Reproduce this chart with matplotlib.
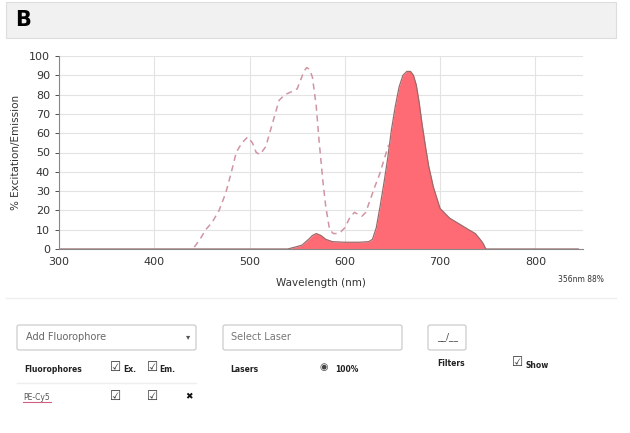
import matplotlib.pyplot as plt
from matplotlib.patches import Rectangle, FancyBboxPatch
from matplotlib.lines import Line2D

# excitation spectrum (dashed)
ex_wl = [442, 448, 454, 461, 468, 475, 481, 486, 492, 498, 503, 507, 511, 517, 524, 531,
         537, 542, 550, 554, 557, 560, 563, 566, 570, 573, 577, 580, 584, 588, 592, 596, 600,
         605, 610, 614, 618, 622, 627, 632, 636, 641, 646]
ex_val = [1, 5, 10, 14, 20, 29, 40, 50, 55, 58, 55, 50, 49, 53, 65, 77,
          80, 81, 83, 88, 92, 94, 93, 89, 74, 56, 35, 22, 10, 8, 8, 9, 11,
          16, 19, 18, 17, 19, 26, 33, 38, 46, 54]

# emission spectrum (filled)
em_wl = [300, 540, 548, 555, 562, 566, 570, 575, 580, 587, 600, 615, 625, 629, 633, 637,
         641, 645, 649, 653, 657, 661, 665, 669, 672, 675, 678, 681, 685, 688, 693, 700, 710,
         720, 730, 737, 742, 745, 748, 845]
em_val = [0, 0, 1, 2, 5, 7, 8, 7, 5, 3.8, 3.5, 3.5, 3.8, 5, 11, 22,
          34, 47, 62, 74, 84, 90, 92, 92, 90, 85, 76, 65, 52, 43, 32, 21, 16,
          13, 10, 8, 5, 3, 0, 0]

x_ticks = [300, 400, 500, 600, 700, 800]
y_ticks = list(range(0, 101, 10))

W, H = 630, 433
fig = plt.figure(figsize=(6.3, 4.33), dpi=100)
fig.patch.set_facecolor("white")


def fx(px):
    return px / W


def fy(py):
    return 1 - py / H


# header band with "B"
fig.patches.append(Rectangle((fx(6), fy(38)), fx(610), 36 / H, transform=fig.transFigure,
                             facecolor="#f1f1f1", edgecolor="#dddddd", lw=0.8))
fig.text(fx(15), fy(20), "B", fontsize=15, fontweight="bold", va="center", ha="left")

ax = fig.add_axes([fx(59), fy(249), fx(583 - 59), (249 - 56) / H])
ax.fill_between(em_wl, em_val, color="#ff6b74", lw=0)
ax.plot(em_wl, em_val, color="#9a6a6a", lw=0.9)
ax.plot(ex_wl, ex_val, color="#cf95a2", lw=1.1, ls=(0, (4, 3)))

ax.set_xlim(300, 850)
ax.set_ylim(0, 100)
ax.set_xticks(x_ticks)
ax.set_yticks(y_ticks)
ax.grid(True, color="#e3e3e3", lw=0.8)
ax.set_axisbelow(True)
for s in ["top", "right"]:
    ax.spines[s].set_visible(False)
for s in ["left", "bottom"]:
    ax.spines[s].set_color("#888888")
ax.tick_params(axis="both", labelsize=8, colors="#333333", length=3, width=0.6)
ax.tick_params(axis="x", length=0, pad=6)
ax.set_xlabel("Wavelength (nm)", fontsize=7.5, color="#333333", labelpad=8)
ax.set_ylabel("% Excitation/Emission", fontsize=7.5, color="#333333", labelpad=6)

fig.text(fx(558), fy(280), "356nm 88%", fontsize=5.5, color="#333333", va="center")

# separator
fig.lines.append(Line2D([fx(6), fx(616)], [fy(298), fy(298)], transform=fig.transFigure,
                        color="#eeeeee", lw=1))

# input boxes
for x0, x1 in [(17, 196), (223, 402), (428, 466)]:
    fig.patches.append(FancyBboxPatch((fx(x0), fy(350)), fx(x1 - x0), 25 / H,
                                      boxstyle="round,pad=0,rounding_size=0.004",
                                      transform=fig.transFigure, facecolor="white",
                                      edgecolor="#cccccc", lw=0.9))
fig.text(fx(26), fy(337), "Add Fluorophore", fontsize=7, color="#666666", va="center")
fig.text(fx(186), fy(337), "▾", fontsize=6, color="#555555", va="center")
fig.text(fx(231), fy(337), "Select Laser", fontsize=7, color="#777777", va="center")
fig.text(fx(437), fy(337), "__/__", fontsize=6.5, color="#444444", va="center")

small = dict(fontsize=5.5, va="center", color="#222222", fontweight="bold")
fig.text(fx(24), fy(370), "Fluorophores", **small)
fig.text(fx(110), fy(367), "☑", fontsize=9, va="center", color="#333333")
fig.text(fx(123), fy(370), "Ex.", **small)
fig.text(fx(147), fy(367), "☑", fontsize=9, va="center", color="#333333")
fig.text(fx(159), fy(370), "Em.", **small)
fig.text(fx(230), fy(370), "Lasers", **small)
fig.text(fx(320), fy(367), "◉", fontsize=7, va="center", color="#444444")
fig.text(fx(335), fy(370), "100%", **small)
fig.text(fx(437), fy(364), "Filters", **small)
fig.text(fx(512), fy(362), "☑", fontsize=9, va="center", color="#333333")
fig.text(fx(526), fy(366), "Show", **small)

fig.lines.append(Line2D([fx(17), fx(196)], [fy(383), fy(383)], transform=fig.transFigure,
                        color="#eeeeee", lw=1))
fig.text(fx(23), fy(397), "PE-Cy5", fontsize=5.5, color="#555555", va="center")
fig.lines.append(Line2D([fx(23), fx(51)], [fy(402), fy(402)], transform=fig.transFigure,
                        color="#d06080", lw=0.8))
fig.text(fx(110), fy(396), "☑", fontsize=9, va="center", color="#333333")
fig.text(fx(147), fy(396), "☑", fontsize=9, va="center", color="#333333")
fig.text(fx(185), fy(397), "✖", fontsize=6.5, va="center", color="#111111")

fig.savefig("out.png", dpi=100)
